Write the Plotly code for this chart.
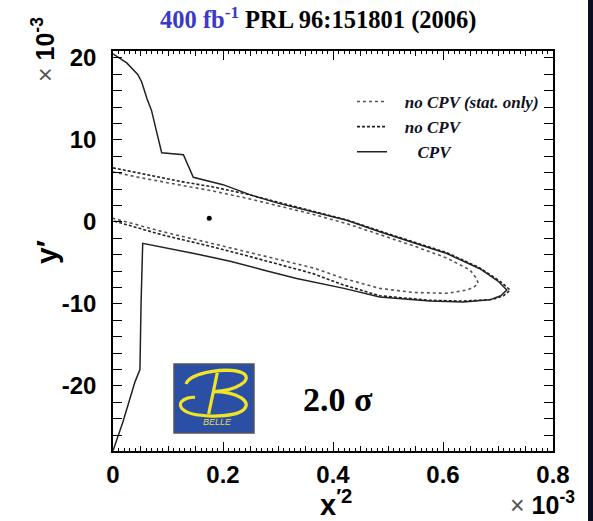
import plotly.graph_objects as go

# ---------------- data (units of 1e-3) ----------------
cpv_x = [0.0, 0.025, 0.045, 0.052, 0.062, 0.070, 0.080, 0.0885, 0.128, 0.146, 0.20, 0.25, 0.30, 0.36,
         0.425, 0.485, 0.55, 0.607, 0.667, 0.700, 0.716, 0.705, 0.685, 0.637, 0.576, 0.485, 0.42,
         0.334, 0.273, 0.213, 0.152, 0.098, 0.054, 0.051, 0.049, 0.040, 0.018, 0.0]
cpv_y = [20.5, 19.4, 18.0, 17.1, 15.0, 13.6, 10.8, 8.45, 8.2, 5.45, 4.55, 3.3, 2.3, 1.3,
         0.2, -1.2, -2.6, -3.85, -5.7, -7.2, -8.3, -9.0, -9.5, -9.75, -9.65, -9.15, -8.1,
         -6.9, -5.85, -4.8, -3.9, -3.2, -2.6, -10.0, -18.0, -19.5, -24.4, -27.9]

nocpv_x = [0.0, 0.05, 0.122, 0.18, 0.243, 0.30, 0.36, 0.425, 0.485, 0.55, 0.607, 0.667, 0.705, 0.722,
           0.71, 0.69, 0.637, 0.576, 0.485, 0.42, 0.364, 0.273, 0.182, 0.091, 0.04, 0.0]
nocpv_y = [6.6, 5.9, 4.95, 4.3, 3.4, 2.4, 1.35, 0.25, -1.1, -2.5, -3.75, -5.6, -7.3, -8.3,
           -9.0, -9.45, -9.65, -9.55, -9.0, -7.7, -6.3, -4.65, -3.05, -1.6, -0.6, 0.15]

stat_x = [0.0, 0.05, 0.122, 0.18, 0.243, 0.30, 0.36, 0.425, 0.485, 0.546, 0.607, 0.649, 0.661, 0.664,
          0.655, 0.643, 0.607, 0.546, 0.485, 0.42, 0.364, 0.273, 0.182, 0.091, 0.0]
stat_y = [6.1, 5.4, 4.5, 3.8, 2.9, 2.0, 1.0, -0.2, -1.55, -2.9, -4.4, -5.85, -6.9, -7.5,
          -8.0, -8.3, -8.7, -8.6, -8.1, -6.9, -5.6, -4.1, -2.65, -1.2, 0.45]

best_x = [0.175]
best_y = [0.45]

x_ticks = [0, 0.2, 0.4, 0.6, 0.8]
x_ticklabels = ["0", "0.2", "0.4", "0.6", "0.8"]
y_ticks = [20, 10, 0, -10, -20]
y_ticklabels = ["20", "10", "0", "-10", "-20"]

names = ["no CPV (stat. only)", "no CPV", "CPV"]
name_indent = [3, 3, 6]

# ---------------- figure ----------------
W, H = 593, 521
L, R, T, B = 113, 40, 51, 70
PW, PH = W - L - R, H - T - B


def pp(px, py):
    return (px - L) / PW, (H - B - py) / PH


fig = go.Figure()
fig.add_trace(go.Scatter(x=stat_x, y=stat_y, mode="lines", name="\u00a0" * name_indent[0] + names[0],
                         legendgroup="a", line=dict(color="#555555", width=1.6, dash="dot")))
fig.add_trace(go.Scatter(x=nocpv_x, y=nocpv_y, mode="lines", name="\u00a0" * name_indent[1] + names[1],
                         legendgroup="b", line=dict(color="#222222", width=1.6, dash="3px,2px")))
fig.add_trace(go.Scatter(x=cpv_x, y=cpv_y, mode="lines", name="\u00a0" * name_indent[2] + names[2],
                         legendgroup="c", line=dict(color="#222222", width=1.5)))
fig.add_trace(go.Scatter(x=best_x, y=best_y, mode="markers", showlegend=False,
                         marker=dict(color="black", size=5)))
# dummy trace for secondary tick axis
fig.add_trace(go.Scatter(x=[None], y=[None], xaxis="x2", showlegend=False, hoverinfo="skip"))

tickfont = dict(family="Liberation Sans", size=24, color="black", weight="bold")

fig.update_layout(
    width=W, height=H,
    margin=dict(l=L, r=R, t=T, b=B),
    paper_bgcolor="white", plot_bgcolor="white",
    showlegend=True,
    legend=dict(x=pp(352, 0)[0], y=pp(0, 84)[1], xanchor="left", yanchor="top",
                bgcolor="rgba(0,0,0,0)", borderwidth=0, itemwidth=30, tracegroupgap=0,
                font=dict(family="Liberation Serif", size=17, color="#111122",
                          weight="bold", style="italic")),
    xaxis=dict(range=[0, 0.8], tickvals=x_ticks, ticktext=x_ticklabels,
               showgrid=False, zeroline=False, showline=True, linecolor="black", linewidth=1.5,
               mirror="allticks", ticks="inside", ticklen=9, tickwidth=1, tickcolor="black",
               minor=dict(dtick=0.01, tick0=0, ticklen=3, tickwidth=1, tickcolor="black", ticks="inside"),
               tickfont=tickfont, ticklabelstandoff=1),
    xaxis2=dict(range=[0, 0.8], overlaying="x", anchor="y", side="bottom",
                showgrid=False, zeroline=False, showline=False, showticklabels=False,
                ticks="inside", dtick=0.05, tick0=0, ticklen=5, tickwidth=1, tickcolor="black",
                mirror="allticks"),
    yaxis=dict(range=[-27.93, 20.85], tickvals=y_ticks, ticktext=y_ticklabels,
               showgrid=False, zeroline=False, showline=True, linecolor="black", linewidth=1.5,
               mirror="allticks", ticks="inside", ticklen=9, tickwidth=1, tickcolor="black",
               minor=dict(dtick=2, tick0=0, ticklen=5, tickwidth=1, tickcolor="black", ticks="inside"),
               tickfont=tickfont, ticklabelstandoff=10),
)

ann = []


def add_text(px, py, text, font, angle=0):
    x, y = pp(px, py)
    ann.append(dict(x=x, y=y, xref="paper", yref="paper", showarrow=False, textangle=angle,
                    xanchor="center", yanchor="middle", text=text, font=font))


add_text(318, 19, "<span style='color:#3a3ac8'>400 fb<sup>-1</sup></span> PRL 96:151801 (2006)",
         dict(family="Liberation Serif", size=24.5, color="black", weight="bold"))
add_text(43, 50, "<span style='color:#555;font-weight:normal'>×</span> 10<sup>-3</sup>",
         dict(family="Liberation Sans", size=25, color="black", weight="bold"), angle=-90)
add_text(47, 252, "y′", dict(family="Liberation Sans", size=30, color="black", weight="bold"), angle=-90)
add_text(336, 503, "x<sup>′2</sup>", dict(family="Liberation Sans", size=29, color="black", weight="bold"))
add_text(542, 503, "<span style='color:#555;font-weight:normal'>×</span> 10<sup>-3</sup>",
         dict(family="Liberation Sans", size=25, color="black", weight="bold"))
add_text(338, 399, "2.0 σ", dict(family="Liberation Serif", size=34, color="black", weight="bold"))
add_text(217, 422, "BELLE", dict(family="Liberation Sans", size=9, color="#e6dc3a", style="italic"))

shapes = []
x0, y0 = pp(174, 433)
x1, y1 = pp(254, 364)
shapes.append(dict(type="rect", xref="paper", yref="paper", x0=x0, y0=y0, x1=x1, y1=y1,
                   fillcolor="#2c4fa6", line=dict(color="#555555", width=1.5), layer="above"))


def path(points):
    s = ""
    for cmd, pts in points:
        s += cmd + " ".join("%.4f,%.4f" % pp(a, b) for a, b in pts) + " "
    return s


def z(zx, zy):
    return (80 + zx / 3.0, 240 + zy / 3.0)


p1 = path([("M", [z(318, 432)]),
           ("C", [z(330, 395), z(450, 380), z(490, 400)]),
           ("C", [z(520, 420), z(470, 452), z(400, 455)])])
p2 = path([("M", [z(412, 398)]), ("L", [z(386, 522)])])
p3 = path([("M", [z(400, 455)]),
           ("C", [z(470, 455), z(520, 485), z(490, 510)]),
           ("C", [z(460, 535), z(330, 535), z(305, 505)]),
           ("C", [z(290, 485), z(320, 470), z(345, 472)])])
for p in (p1, p2, p3):
    shapes.append(dict(type="path", xref="paper", yref="paper", path=p,
                       line=dict(color="#f0e428", width=3.2), layer="above"))

bx0, by0 = pp(588, 521)
bx1, by1 = pp(593, 0)
shapes.append(dict(type="rect", xref="paper", yref="paper", x0=bx0, y0=by0, x1=bx1, y1=by1,
                   fillcolor="#0d0d22", line=dict(width=0), layer="above"))

fig.update_layout(annotations=ann, shapes=shapes)

fig.write_html("out.html")
